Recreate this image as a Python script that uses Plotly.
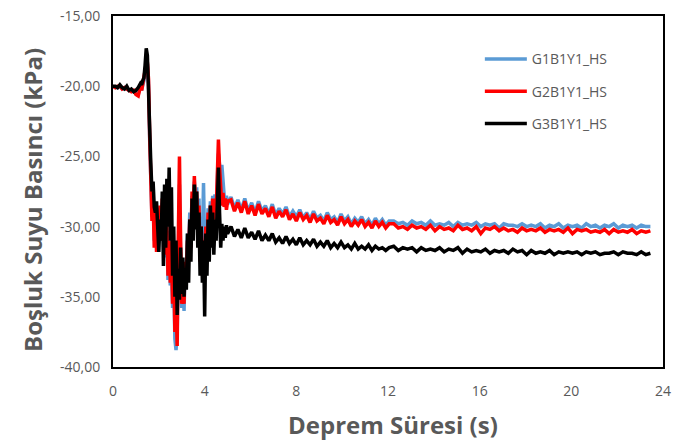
import numpy as np
import plotly.graph_objects as go

# ---- sampling segments (time grid, s) ----
seg_start = (0.0, 0.1)     # start, step
seg_quake = (1.25, 0.05)
seg_decay = (5.15, 0.15)
seg_tail = (12.25, 0.2)

# ---- G1B1Y1_HS ----
g1_start = [-20.0, -20.1, -20.1, -20.0, -20.2, -20.1, -20.2, -20.3, -20.3, -20.3, -20.5, -20.6, -20.0]
g1_quake = [-20.3, -19.9, -19.6, -19.0, -18.5, -18.4, -19.8, -23.8, -27.0, -29.3, -28.2, -31.0, -29.3, -31.5, -29.2,
            -30.8, -28.7, -30.8, -28.3, -30.2, -29.3, -32.2, -30.3, -33.8, -31.2, -34.2, -32.4, -35.8, -33.5, -38.0,
            -38.8, -37.5, -32.0, -27.0, -32.0, -35.8, -33.5, -36.0, -32.8, -33.0, -30.5, -31.5, -29.0, -30.5, -27.8,
            -28.8, -26.8, -28.2, -27.2, -29.5, -28.0, -32.0, -29.5, -31.0, -26.9, -31.5, -29.5, -31.0, -28.7, -30.0,
            -28.2, -29.6, -27.8, -29.2, -27.7, -28.6, -26.8, -24.8, -25.6, -26.5, -25.6, -27.3, -27.8, -28.5, -27.8, -28.4]
g1_decay = [-27.9, -28.7, -28.1, -28.8, -28.0, -28.9, -28.3, -29.0, -28.2, -28.9,
            -28.5, -29.1, -28.4, -29.2, -28.7, -29.1, -28.6, -29.3, -28.9, -29.3,
            -28.8, -29.4, -29.0, -29.5, -28.9, -29.4, -29.2, -29.6, -29.0, -29.5,
            -29.3, -29.7, -29.1, -29.6, -29.3, -29.8, -29.4, -29.7, -29.3, -29.8,
            -29.5, -29.9, -29.4, -29.8, -29.5, -29.9, -29.6]
g1_tail = [-29.6, -29.8, -29.7, -29.9, -29.6, -29.8, -29.7, -29.9, -29.6, -29.9,
           -29.8, -29.9, -29.7, -30.0, -29.7, -29.9, -29.8, -29.9, -29.7, -30.0,
           -29.8, -29.9, -29.8, -30.1, -29.8, -29.9, -29.9, -30.0, -29.8, -30.0,
           -29.9, -30.0, -29.8, -30.1, -29.9, -30.0, -29.8, -30.1, -29.9, -30.0,
           -29.9, -30.1, -29.8, -30.0, -29.9, -30.1, -29.9, -30.0, -29.8, -30.1,
           -29.9, -30.0, -29.9, -30.1, -29.9, -30.0, -30.0]

# ---- G2B1Y1_HS ----
g2_start = [-20.0, -20.1, -20.0, -20.0, -20.2, -20.1, -20.2, -20.3, -20.4, -20.3, -20.6, -20.7, -20.0]
g2_quake = [-20.3, -19.8, -19.6, -19.0, -18.4, -18.3, -19.5, -23.5, -27.5, -29.6, -28.0, -31.5, -29.0, -31.8, -29.5,
            -30.5, -28.5, -31.0, -28.0, -30.5, -29.0, -32.0, -30.0, -33.5, -31.0, -34.0, -32.0, -35.5, -33.0, -37.5,
            -35.0, -38.5, -31.0, -25.0, -31.0, -35.5, -33.0, -35.5, -32.5, -33.5, -31.0, -32.0, -29.5, -31.5, -27.5,
            -29.0, -26.4, -28.5, -27.5, -30.0, -28.5, -32.5, -30.0, -33.5, -31.0, -33.0, -30.0, -31.8, -29.0, -30.5,
            -28.5, -30.0, -28.0, -29.5, -28.0, -29.0, -26.5, -23.8, -25.8, -27.5, -28.5, -27.6, -28.6, -28.0, -28.8, -28.2]
g2_decay = [-28.1, -28.9, -28.3, -29.0, -28.2, -29.1, -28.5, -29.2, -28.4, -29.1,
            -28.7, -29.3, -28.6, -29.4, -28.9, -29.3, -28.8, -29.5, -29.1, -29.6,
            -29.0, -29.5, -29.2, -29.7, -29.1, -29.6, -29.4, -29.8, -29.2, -29.7,
            -29.5, -29.9, -29.3, -29.8, -29.5, -30.0, -29.6, -29.9, -29.5, -30.0,
            -29.7, -30.1, -29.6, -30.0, -29.7, -30.1, -29.8]
g2_tail = [-29.8, -30.1, -30.0, -30.2, -29.9, -30.1, -30.0, -30.2, -29.9, -30.3,
           -30.0, -30.2, -30.1, -30.3, -29.9, -30.2, -30.1, -30.3, -30.0, -30.5,
           -30.1, -30.2, -30.0, -30.3, -30.1, -30.3, -30.2, -30.4, -30.1, -30.3,
           -30.2, -30.3, -30.1, -30.4, -30.2, -30.3, -30.2, -30.4, -30.1, -30.5,
           -30.2, -30.3, -30.2, -30.4, -30.3, -30.4, -30.2, -30.5, -30.2, -30.4,
           -30.3, -30.4, -30.2, -30.5, -30.3, -30.4, -30.3]

# ---- G3B1Y1_HS ----
g3_start = [-20.0, -20.0, -20.1, -19.9, -20.1, -20.2, -20.0, -20.3, -20.2, -20.4, -20.3, -20.1, -19.8]
g3_quake = [-19.9, -19.6, -19.4, -18.5, -17.3, -17.8, -20.5, -24.5, -25.5, -27.5, -26.8, -28.6, -29.0, -28.2, -30.5,
            -31.8, -29.5, -31.0, -27.5, -32.8, -27.0, -31.5, -26.6, -30.0, -25.8, -31.0, -27.2, -33.5, -30.0, -35.0,
            -31.0, -36.3, -33.0, -35.2, -31.5, -34.8, -32.2, -35.0, -33.0, -34.5, -30.5, -34.0, -29.5, -32.5, -28.0,
            -31.0, -27.0, -30.2, -27.5, -31.5, -29.0, -33.5, -30.0, -34.0, -31.0, -36.4, -30.5, -33.5, -29.5, -32.5,
            -28.5, -31.5, -29.0, -32.0, -29.5, -31.0, -28.5, -25.8, -29.0, -31.5, -29.8, -31.0, -30.0, -30.8, -29.9, -30.5]
g3_decay = [-30.0, -30.7, -30.2, -30.8, -30.1, -30.8, -30.4, -30.9, -30.3, -31.0,
            -30.6, -31.0, -30.5, -31.1, -30.8, -31.2, -30.7, -31.2, -30.9, -31.3,
            -30.8, -31.3, -31.0, -31.3, -30.9, -31.4, -31.1, -31.4, -31.0, -31.5,
            -31.2, -31.5, -31.1, -31.5, -31.3, -31.6, -31.2, -31.6, -31.4, -31.6,
            -31.3, -31.7, -31.4, -31.6, -31.5, -31.7, -31.5]
g3_tail = [-31.4, -31.7, -31.5, -31.6, -31.5, -31.8, -31.5, -31.7, -31.6, -31.7,
           -31.5, -31.8, -31.6, -31.7, -31.5, -31.9, -31.6, -31.8, -31.7, -31.8,
           -31.6, -31.9, -31.7, -31.8, -31.7, -31.9, -31.6, -31.8, -31.7, -32.0,
           -31.7, -31.9, -31.8, -31.9, -31.7, -32.0, -31.8, -31.9, -31.8, -31.9,
           -31.8, -32.0, -31.8, -31.9, -31.8, -32.0, -31.9, -31.9, -31.8, -32.0,
           -31.8, -31.9, -31.9, -32.0, -31.8, -32.0, -31.9]

series_names = ["G1B1Y1_HS", "G2B1Y1_HS", "G3B1Y1_HS"]
series_colors = ["#5B9BD5", "#FF0000", "#000000"]
x_ticks = [0, 4, 8, 12, 16, 20, 24]
y_ticks = [-40, -35, -30, -25, -20, -15]
y_tick_text = ["-40,00", "-35,00", "-30,00", "-25,00", "-20,00", "-15,00"]
x_title = "Deprem Süresi (s)"
y_title = "Boşluk Suyu Basıncı (kPa)"


def build(parts):
    segs = [seg_start, seg_quake, seg_decay, seg_tail]
    xs, ys = [], []
    for (s0, ds), vals in zip(segs, parts):
        xs.extend(s0 + ds * np.arange(len(vals)))
        ys.extend(vals)
    return xs, ys


all_series = [
    (g1_start, g1_quake, g1_decay, g1_tail),
    (g2_start, g2_quake, g2_decay, g2_tail),
    (g3_start, g3_quake, g3_decay, g3_tail),
]

grey = "#595959"
font_family = "'Open Sans', 'Noto Sans', sans-serif"

fig = go.Figure()
for parts, name, color in zip(all_series, series_names, series_colors):
    xs, ys = build(parts)
    fig.add_trace(go.Scatter(x=xs, y=ys, mode="lines", name=name,
                             legendgroup=name,
                             line=dict(color=color, width=3.5)))

fig.update_layout(
    width=673, height=443,
    margin=dict(l=113, r=10, t=16, b=76),
    paper_bgcolor="white", plot_bgcolor="white",
    font=dict(family=font_family, color=grey, size=14),
    showlegend=True,
    legend=dict(x=0.667, y=0.922, xanchor="left", yanchor="top",
                bgcolor="rgba(0,0,0,0)", tracegroupgap=11, itemwidth=42,
                font=dict(size=14, color=grey, family=font_family)),
    annotations=[
        dict(text="<b>" + x_title + "</b>", xref="paper", yref="paper",
             x=0.509, y=-0.165, xanchor="center", yanchor="middle", showarrow=False,
             font=dict(size=24, color=grey, family=font_family)),
        dict(text="<b>" + y_title + "</b>", xref="paper", yref="paper", textangle=-90,
             x=-0.1455, y=0.4758, xanchor="center", yanchor="middle", showarrow=False,
             font=dict(size=24, color=grey, family=font_family)),
    ],
)
fig.update_xaxes(range=[0, 24], tickvals=x_ticks, ticks="", showgrid=False, zeroline=False,
                 showline=True, linecolor="black", linewidth=2, mirror=True, automargin=False,
                 ticklabelstandoff=10, tickfont=dict(size=14, color=grey))
fig.update_yaxes(range=[-40, -15], tickvals=y_ticks, ticktext=y_tick_text, ticks="", showgrid=False,
                 zeroline=False, showline=True, linecolor="black", linewidth=2, mirror=True, automargin=False,
                 ticklabelstandoff=8, tickfont=dict(size=14, color=grey))

fig.write_html("out.html", config={"displayModeBar": False},
               post_script="document.body.style.margin='0';")
